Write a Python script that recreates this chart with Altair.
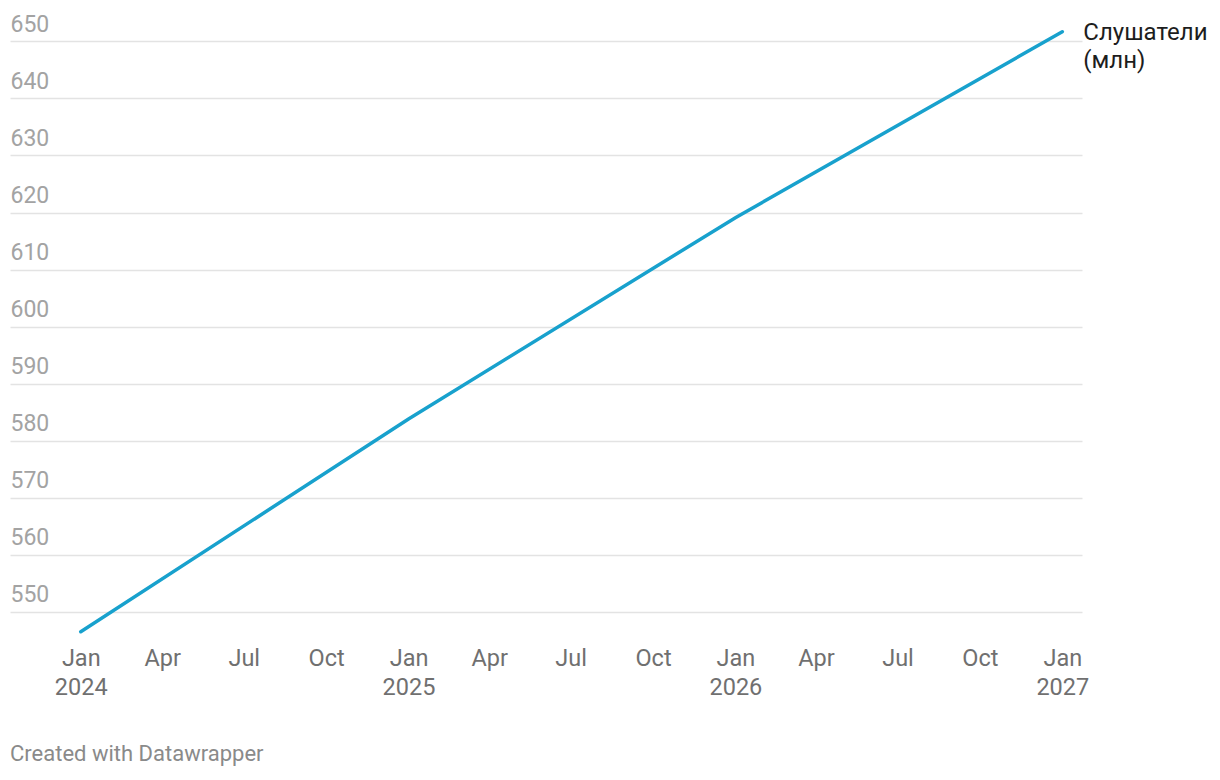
import altair as alt
import pandas as pd

# Data
dates = ["2024-01-01", "2025-01-01", "2026-01-01", "2027-01-01"]
listeners = [546.5, 583.8, 619.1, 651.7]
series_label = ["Слушатели", "(млн)"]
y_ticks = [550, 560, 570, 580, 590, 600, 610, 620, 630, 640, 650]
x_tick_months = [(y, m) for y in (2024, 2025, 2026) for m in (1, 4, 7, 10)] + [(2027, 1)]
footer = "Created with Datawrapper"

df = pd.DataFrame({"date": dates, "value": listeners})
last = pd.DataFrame({"date": [dates[-1]], "value": [listeners[-1]], "label": [series_label]})

W, H = 1072, 616
FONT = "Roboto"

x_scale = alt.Scale(
    type="utc",
    domain=[alt.DateTime(year=2023, month=10, date=14, utc=True),
            alt.DateTime(year=2027, month=1, date=23, utc=True)],
)
y_scale = alt.Scale(domain=[544, 652], nice=False, zero=False)

x_axis = alt.Axis(
    title=None,
    values=[alt.DateTime(year=y, month=m, date=1, utc=True) for y, m in x_tick_months],
    labelExpr="utcmonth(datum.value) == 0 ? [utcFormat(datum.value, '%b'), utcFormat(datum.value, '%Y')] : utcFormat(datum.value, '%b')",
    domain=False, ticks=False, grid=False,
    labelFont=FONT, labelFontSize=23.5, labelColor="#707070",
    labelPadding=0, labelLineHeight=29, labelFlush=False, labelOverlap=False,
)
y_axis = alt.Axis(
    title=None, values=y_ticks,
    domain=False, ticks=False, tickSize=0,
    grid=True, gridColor="#e3e3e3", gridWidth=1.5,
    labelFont=FONT, labelFontSize=23, labelColor="#a3a3a3",
    labelAlign="left", labelBaseline="alphabetic", labelPadding=0, labelOffset=-10,
)

line = alt.Chart(df).mark_line(color="#18a1cd", strokeWidth=3.5, strokeCap="round").encode(
    x=alt.X("date:T", scale=x_scale, axis=x_axis),
    y=alt.Y("value:Q", scale=y_scale, axis=y_axis),
)

label = alt.Chart(last).mark_text(
    align="left", baseline="alphabetic", dx=21, dy=8,
    font=FONT, fontSize=24, color="#1d1d1d", lineHeight=28,
).encode(
    x=alt.X("date:T", scale=x_scale),
    y=alt.Y("value:Q", scale=y_scale),
    text="label",
)

foot = alt.Chart(pd.DataFrame({"t": [footer]})).mark_text(
    align="left", baseline="alphabetic", font=FONT, fontSize=22, color="#8a8a8a",
).encode(
    x=alt.value(0),
    y=alt.value(731),
    text="t:N",
)

chart = alt.layer(line, label, foot).properties(
    width=W, height=H,
    autosize=alt.AutoSizeParams(type="none"),
    padding={"left": 2, "top": 22, "right": 128, "bottom": 120},
).configure_view(stroke=None)

chart.save("out.html", embed_options={"renderer": "svg", "actions": False})
